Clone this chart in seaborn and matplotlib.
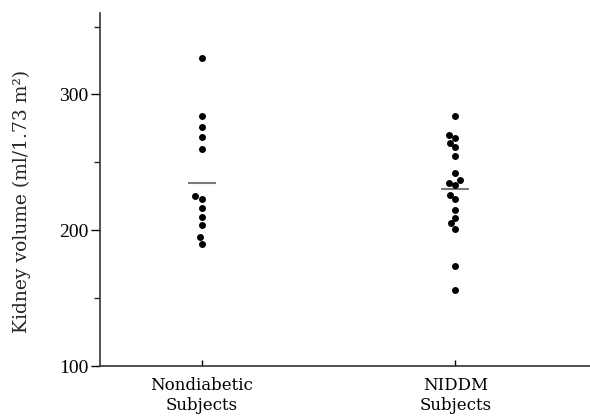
import matplotlib
matplotlib.use("Agg")
import matplotlib.pyplot as plt
import seaborn as sns
import pandas as pd

# Kidney volume per subject, grouped by diabetes status
groups = ["Nondiabetic\nSubjects", "NIDDM\nSubjects"]
nondiabetic_volume = [327, 284, 276, 269, 260, 225, 223, 216, 210, 204, 195, 190]
niddm_volume = [284, 270, 268, 264, 261, 255, 242, 237, 235, 233, 226, 223,
                215, 209, 205, 201, 174, 156]
group_means = [235, 230]

y_ticks = [100, 200, 300]
y_minor_ticks = [150, 250, 350]

df = pd.DataFrame({
    "group": [groups[0]] * len(nondiabetic_volume) + [groups[1]] * len(niddm_volume),
    "volume": nondiabetic_volume + niddm_volume,
})

sns.set_style("ticks")
plt.rcParams["font.family"] = ["DejaVu Serif"]

fig = plt.figure(figsize=(5.9, 4.18), dpi=100)
ax = fig.add_axes([0.1695, 0.1244, 0.8305, 0.8446])

sns.swarmplot(data=df, x="group", y="volume", order=groups, color="black",
              size=5, ax=ax, zorder=3)

# group mean markers
for i, m in enumerate(group_means):
    ax.hlines(m, i - 0.055, i + 0.055, color="#7a7a7a", linewidth=1.5, zorder=2)

ax.set_ylim(100, 360)
ax.set_xlim(-0.4, 1.53)
ax.set_yticks(y_ticks)
ax.set_yticks(y_minor_ticks, minor=True)
ax.tick_params(axis="y", which="major", direction="out", length=6.5, width=1,
               pad=2, colors="black")
ax.tick_params(axis="y", which="minor", direction="out", length=4, width=1)
ax.tick_params(axis="x", which="major", direction="in", length=4, width=1,
               labelsize=12, pad=8, colors="black")
for lbl in ax.get_yticklabels():
    lbl.set_fontfamily(["Liberation Serif"])
    lbl.set_fontsize(14)

ax.set_xlabel("")
ax.set_ylabel("Kidney volume (ml/1.73 m²)", fontsize=13.5)
ax.yaxis.set_label_coords(-0.14, 0.465)

for side in ["top", "right"]:
    ax.spines[side].set_visible(False)
for side in ["left", "bottom"]:
    ax.spines[side].set_linewidth(1.2)
    ax.spines[side].set_color("#333333")

fig.savefig("out.png", dpi=100)
